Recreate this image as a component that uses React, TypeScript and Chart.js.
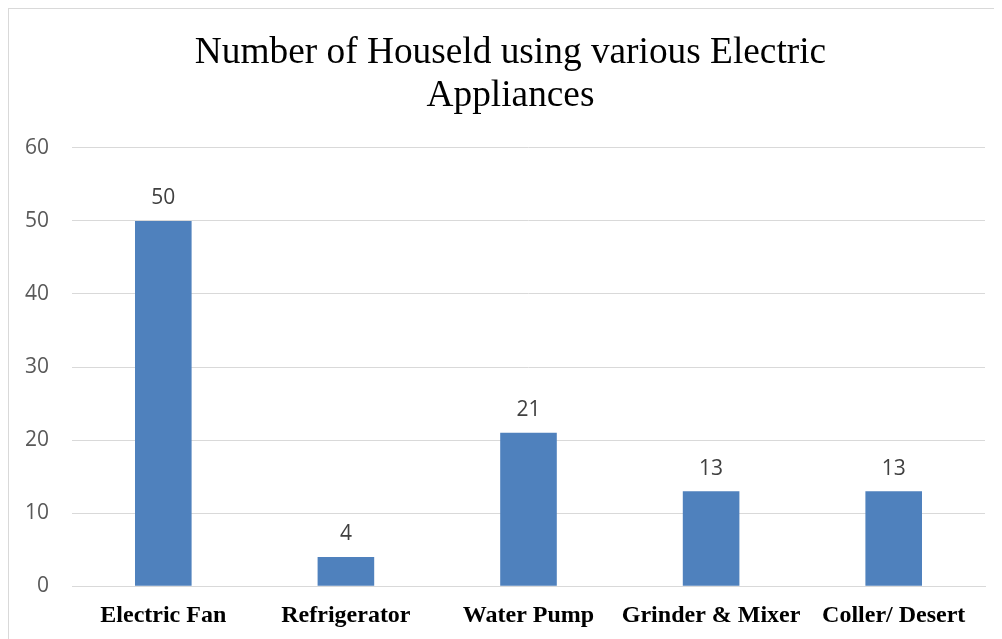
import React, { useEffect, useRef } from "react";
import { Chart, registerables } from "chart.js";

Chart.register(...registerables);

const categories = ["Electric Fan", "Refrigerator", "Water Pump", "Grinder & Mixer", "Coller/ Desert"];
const households = [50, 4, 21, 13, 13];
const titleLines = ["Number of Houseld using various Electric", "Appliances"];
const yTicks = { min: 0, max: 60, step: 10 };

const valueLabels = {
  id: "valueLabels",
  afterDatasetsDraw(chart: any) {
    const ctx = chart.ctx;
    const meta = chart.getDatasetMeta(0);
    const data = chart.data.datasets[0].data;
    ctx.save();
    ctx.font = '21px "Open Sans"';
    ctx.fillStyle = "#404040";
    ctx.textAlign = "center";
    ctx.textBaseline = "alphabetic";
    meta.data.forEach((bar: any, i: number) => {
      ctx.fillText(String(data[i]), bar.x, bar.y - 16.5);
    });
    ctx.restore();
  },
};

export default function App() {
  const ref = useRef<HTMLCanvasElement>(null);
  useEffect(() => {
    if (!ref.current) return;
    const chart = new Chart(ref.current, {
      type: "bar",
      data: {
        labels: categories,
        datasets: [
          {
            data: households,
            backgroundColor: "#4f81bd",
            barPercentage: 0.31,
            categoryPercentage: 1,
          },
        ],
      },
      options: {
        responsive: false,
        animation: false,
        layout: { padding: { left: 16, right: 6, top: 0, bottom: 1 } },
        plugins: {
          legend: { display: false },
          tooltip: { enabled: false },
          title: {
            display: true,
            text: titleLines,
            color: "#000000",
            font: { family: '"Liberation Serif", "Times New Roman", serif', size: 37.33, weight: "normal", lineHeight: 1.15 },
            padding: { top: 23, bottom: 30 },
          },
        },
        scales: {
          x: {
            afterFit(scale: any) {
              scale.height = 51.8;
            },
            grid: { display: false, drawTicks: false },
            border: { display: true, color: "#d9d9d9", width: 1 },
            ticks: {
              color: "#000000",
              padding: 15.5,
              maxRotation: 0,
              autoSkip: false,
              font: { family: '"Liberation Serif", "Times New Roman", serif', size: 24, weight: "bold" },
            },
          },
          y: {
            min: yTicks.min,
            max: yTicks.max,
            afterFit(scale: any) {
              scale.width = 47;
            },
            grid: { color: "#d9d9d9", lineWidth: 1, drawTicks: false },
            border: { display: false },
            ticks: {
              stepSize: yTicks.step,
              color: "#595959",
              padding: 23,
              font: { family: '"Open Sans", sans-serif', size: 21 },
            },
          },
          spacer: {
            type: "linear",
            axis: "y",
            position: "right",
            display: true,
            afterFit(scale: any) {
              scale.width = 11;
            },
            grid: { display: false, drawTicks: false },
            border: { display: false },
            ticks: { display: false },
          },
        },
      },
      plugins: [valueLabels],
    });
    return () => chart.destroy();
  }, []);

  return (
    <div
      style={{
        width: 994,
        height: 631,
        borderLeft: "1px solid #d9d9d9",
        borderTop: "1px solid #d9d9d9",
        boxSizing: "border-box",
        background: "#ffffff",
      }}
    >
      <canvas ref={ref} width={993} height={630} style={{ display: "block" }} />
    </div>
  );
}
